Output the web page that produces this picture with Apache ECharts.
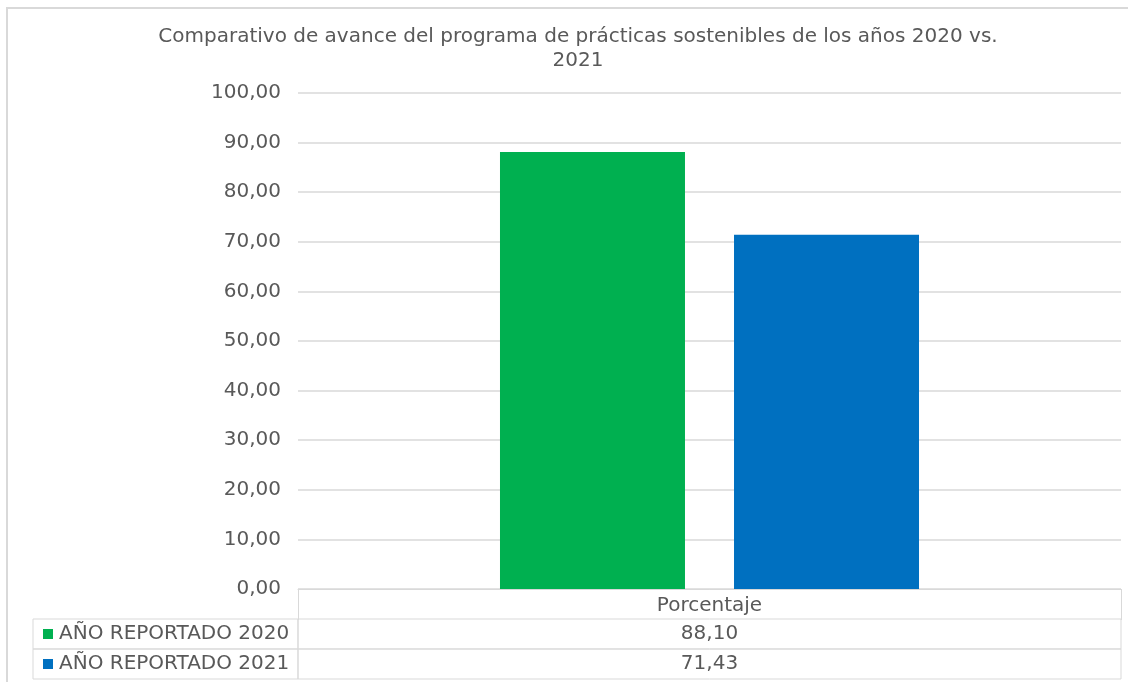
<!DOCTYPE html>
<html>
<head>
<meta charset="utf-8">
<script src="https://cdn.jsdelivr.net/npm/echarts@6/dist/echarts.min.js"></script>
<style>
  html, body { margin: 0; padding: 0; background: #fff; }
  #chart { width: 1128px; height: 682px; }
</style>
</head>
<body>
<div id="chart"></div>
<script>
// datos
const categories = ['Porcentaje'];
const seriesNames = ['AÑO REPORTADO 2020', 'AÑO REPORTADO 2021'];
const values2020 = [88.10];
const values2021 = [71.43];
const yTicks = [0, 10, 20, 30, 40, 50, 60, 70, 80, 90, 100];
const colors = ['#00B050', '#0070C0'];

const textColor = '#595959';
const lineColor = '#d9d9d9';
const font = 'DejaVu Sans, Verdana, sans-serif';
const fmt = v => v.toFixed(2).replace('.', ',');

const allValues = [values2020, values2021];

const myChart = echarts.init(document.getElementById('chart'));

const rowTop = [619, 649];
const grids = [{left: 298, right: 7, top: 93, bottom: 93}];
rowTop.forEach(t => {
  grids.push({show: true, left: 298, right: 7, top: t, height: 30,
    borderColor: lineColor, borderWidth: 1, backgroundColor: 'transparent'});
});
rowTop.forEach(t => {
  grids.push({show: true, left: 33, width: 265, top: t, height: 30,
    borderColor: lineColor, borderWidth: 1, backgroundColor: 'transparent'});
});

const xAxes = [{
  type: 'category',
  gridIndex: 0,
  data: categories,
  axisLine: {lineStyle: {color: lineColor, width: 1}},
  axisTick: {show: true, length: 31, lineStyle: {color: lineColor}},
  axisLabel: {color: textColor, fontSize: 20, fontFamily: font, margin: 7}
}];
const yAxes = [{
  type: 'value',
  gridIndex: 0,
  min: yTicks[0],
  max: yTicks[yTicks.length - 1],
  interval: 10,
  axisLine: {show: false},
  axisTick: {show: false},
  splitLine: {lineStyle: {color: lineColor, width: 1.5}},
  axisLabel: {color: textColor, fontSize: 20, fontFamily: font, margin: 17, formatter: v => fmt(v)}
}];

seriesNames.forEach((name, i) => {
  xAxes.push({
    type: 'category',
    gridIndex: i + 1,
    position: 'bottom',
    data: allValues[i].map(fmt),
    axisLine: {show: false},
    axisTick: {show: false},
    axisLabel: {color: textColor, fontSize: 20, fontFamily: font, margin: -25}
  });
  yAxes.push({
    type: 'category',
    gridIndex: i + 1,
    data: [name],
    axisLine: {show: false},
    axisTick: {show: false},
    axisLabel: {
      margin: 255,
      align: 'left',
      formatter: '{sq| }{t|' + name + '}',
      rich: {
        sq: {width: 10, height: 10, backgroundColor: colors[i]},
        t: {color: textColor, fontSize: 20, fontFamily: font, padding: [0, 0, 0, 6]}
      }
    }
  });
});

const option = {
  backgroundColor: '#fff',
  animation: false,
  title: {
    text: 'Comparativo de avance del programa de prácticas sostenibles de los años 2020 vs.\n2021',
    left: 573,
    top: 20,
    textAlign: 'center',
    textStyle: {color: textColor, fontSize: 20, fontWeight: 'normal', fontFamily: font, lineHeight: 24}
  },
  graphic: [{
    type: 'rect',
    shape: {x: 7, y: 8, width: 1200, height: 720},
    style: {fill: 'none', stroke: lineColor, lineWidth: 2},
    silent: true
  }],
  grid: grids,
  xAxis: xAxes,
  yAxis: yAxes,
  series: [
    {
      name: seriesNames[0],
      type: 'bar',
      xAxisIndex: 0,
      yAxisIndex: 0,
      barWidth: 185,
      barGap: '26.5%',
      itemStyle: {color: colors[0]},
      data: values2020
    },
    {
      name: seriesNames[1],
      type: 'bar',
      xAxisIndex: 0,
      yAxisIndex: 0,
      barWidth: 185,
      barGap: '26.5%',
      itemStyle: {color: colors[1]},
      data: values2021
    }
  ]
};

myChart.setOption(option);
</script>
</body>
</html>
